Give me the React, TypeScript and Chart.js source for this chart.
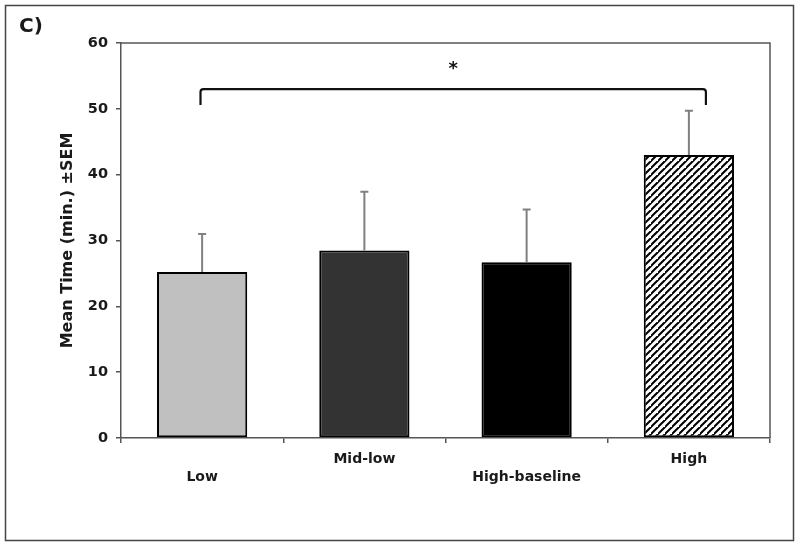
import React, { useEffect, useRef } from "react";
import { Chart, registerables } from "chart.js";

Chart.register(...registerables);

const categories: string[][] = [["", "Low"], ["Mid-low", ""], ["", "High-baseline"], ["High", ""]];
const means: number[] = [25.2, 28.5, 26.7, 43.0];
const sems: number[] = [5.8, 8.9, 8.0, 6.7];
const yTicks: number[] = [0, 10, 20, 30, 40, 50, 60];
const bracketFrom = 0;
const bracketTo = 3;
const bracketLevel = 53.0;
const bracketDrop = 50.6;
const starLevel = 56.0;
const panelLabel = "C)";
const yTitle = "Mean Time (min.) \u00b1SEM";

const FONT = "'DejaVu Sans', Verdana, sans-serif";

function makeHatch(): CanvasPattern | string {
  const c = document.createElement("canvas");
  const s = 7;
  c.width = s;
  c.height = s;
  const g = c.getContext("2d");
  if (!g) return "#fff";
  g.fillStyle = "#ffffff";
  g.fillRect(0, 0, s, s);
  g.strokeStyle = "#000000";
  g.lineWidth = 2;
  g.beginPath();
  g.moveTo(-1, s + 1);
  g.lineTo(s + 1, -1);
  g.moveTo(-1 - s, s + 1);
  g.lineTo(1, -1);
  g.moveTo(s - 1, 2 * s + 1);
  g.lineTo(2 * s + 1, s - 1);
  g.stroke();
  const p = g.createPattern(c, "repeat");
  return p || "#fff";
}

const decorations = {
  id: "decorations",
  beforeDraw(chart: any) {
    const ctx = chart.ctx;
    ctx.save();
    ctx.fillStyle = "#ffffff";
    ctx.fillRect(0, 0, chart.width, chart.height);
    ctx.strokeStyle = "#444444";
    ctx.lineWidth = 1.5;
    ctx.strokeRect(5.5, 5.5, chart.width - 12, chart.height - 13);
    ctx.fillStyle = "#1a1a1a";
    ctx.font = `bold 20px ${FONT}`;
    ctx.textAlign = "left";
    ctx.textBaseline = "middle";
    ctx.fillText(panelLabel, 19, 27);
    ctx.restore();
  },
  afterDatasetsDraw(chart: any) {
    const ctx = chart.ctx;
    const x = chart.scales.x;
    const y = chart.scales.y;
    const area = chart.chartArea;
    ctx.save();
    // plot border
    ctx.strokeStyle = "#555555";
    ctx.lineWidth = 1.5;
    ctx.beginPath();
    ctx.moveTo(area.left, area.top);
    ctx.lineTo(area.right, area.top);
    ctx.lineTo(area.right, area.bottom);
    ctx.stroke();
    // error bars
    const meta = chart.getDatasetMeta(0);
    ctx.strokeStyle = "#808080";
    ctx.lineWidth = 2;
    meta.data.forEach((bar: any, i: number) => {
      const top = y.getPixelForValue(means[i] + sems[i]);
      const base = y.getPixelForValue(means[i]);
      ctx.beginPath();
      ctx.moveTo(bar.x, base);
      ctx.lineTo(bar.x, top);
      ctx.moveTo(bar.x - 4, top);
      ctx.lineTo(bar.x + 4, top);
      ctx.stroke();
    });
    // significance bracket
    const step = x.getPixelForValue(1) - x.getPixelForValue(0);
    const x1 = x.getPixelForValue(bracketFrom) - step * 0.01;
    const x2 = x.getPixelForValue(bracketTo) + step * 0.105;
    const yb = y.getPixelForValue(bracketLevel);
    const yd = y.getPixelForValue(bracketDrop);
    ctx.strokeStyle = "#111111";
    ctx.lineWidth = 2.2;
    ctx.lineJoin = "round";
    ctx.beginPath();
    ctx.moveTo(x1, yd);
    ctx.lineTo(x1, yb + 3);
    ctx.quadraticCurveTo(x1, yb, x1 + 3, yb);
    ctx.lineTo(x2 - 3, yb);
    ctx.quadraticCurveTo(x2, yb, x2, yb + 3);
    ctx.lineTo(x2, yd);
    ctx.stroke();
    ctx.fillStyle = "#111111";
    ctx.font = `bold 18px ${FONT}`;
    ctx.textAlign = "center";
    ctx.textBaseline = "middle";
    ctx.fillText("*", (x1 + x2) / 2, y.getPixelForValue(starLevel));
    ctx.restore();
  },
};

export default function App() {
  const ref = useRef<HTMLCanvasElement | null>(null);
  useEffect(() => {
    if (!ref.current) return;
    const hatch = makeHatch();
    const chart = new Chart(ref.current, {
      type: "bar",
      data: {
        labels: categories,
        datasets: [
          {
            data: means,
            backgroundColor: ["#c0c0c0", "#333333", "#000000", hatch as any],
            borderColor: "#000000",
            borderWidth: 2,
            borderSkipped: false,
            barPercentage: 0.556,
            categoryPercentage: 1,
          },
        ],
      },
      options: {
        animation: false,
        responsive: false,
        devicePixelRatio: 1,
        layout: { padding: { left: 55, right: 30, top: 43, bottom: 0 } },
        plugins: { legend: { display: false }, tooltip: { enabled: false } },
        scales: {
          x: {
            offset: true,
            grid: {
              offset: true,
              display: true,
              drawOnChartArea: false,
              drawTicks: true,
              tickLength: 5,
              color: "#555555",
              lineWidth: 1.5,
            },
            border: { display: true, color: "#555555", width: 1.5 },
            ticks: {
              color: "#1a1a1a",
              font: { family: FONT, size: 14, weight: "bold", lineHeight: 1.3 },
              padding: 7,
              maxRotation: 0,
              autoSkip: false,
            },
            afterFit: (s: any) => {
              s.height = 110;
            },
          },
          y: {
            min: 0,
            max: 60,
            afterBuildTicks: (s: any) => {
              s.ticks = yTicks.map((v) => ({ value: v }));
            },
            grid: {
              display: true,
              drawOnChartArea: false,
              drawTicks: true,
              tickLength: 5,
              color: "#555555",
              lineWidth: 1.5,
            },
            border: { display: true, color: "#555555", width: 1.5 },
            ticks: {
              color: "#1a1a1a",
              font: { family: FONT, size: 14.5, weight: "bold" },
              padding: 8,
            },
            title: {
              display: true,
              text: yTitle,
              color: "#1a1a1a",
              font: { family: FONT, size: 16, weight: "bold" },
              padding: { top: 3, bottom: 4 },
            },
            afterFit: (s: any) => {
              s.width = 66;
            },
          },
        },
      },
      plugins: [decorations],
    });
    return () => chart.destroy();
  }, []);
  return (
    <div style={{ position: "fixed", left: 0, top: 0, width: 800, height: 548 }}>
      <canvas ref={ref} width={800} height={548} style={{ width: 800, height: 548, display: "block" }} />
    </div>
  );
}
